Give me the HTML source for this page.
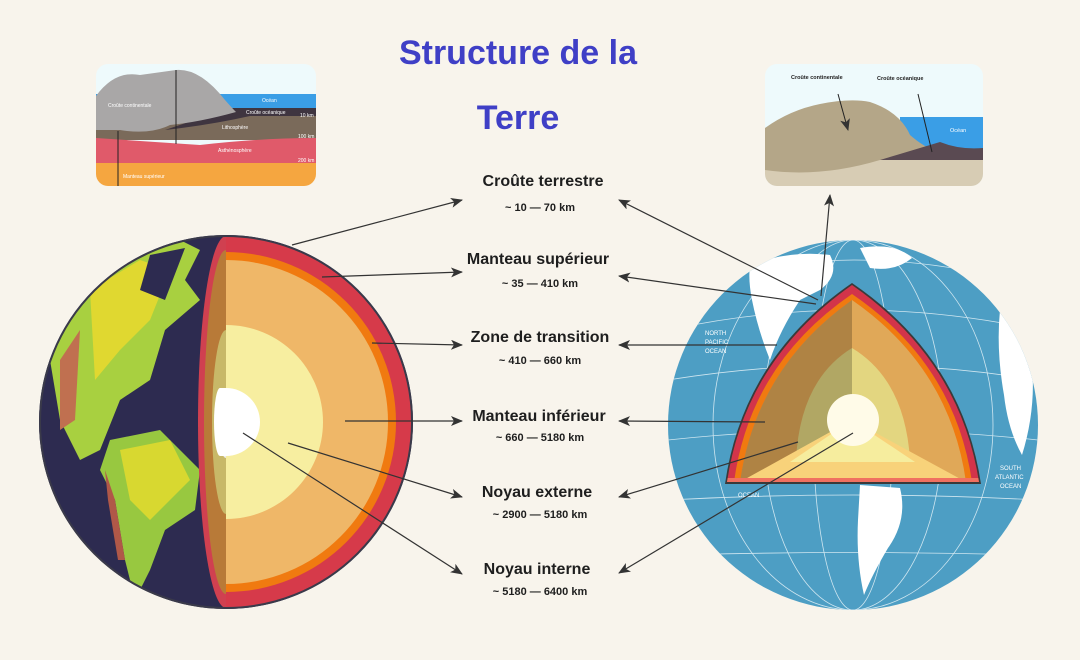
<!DOCTYPE html>
<html><head><meta charset="utf-8"><style>
html,body{margin:0;padding:0;background:#f8f4ec;}
svg{display:block;}
text{font-family:"Liberation Sans","DejaVu Sans",sans-serif;}
</style></head><body>
<svg width="1080" height="660" viewBox="0 0 1080 660" xmlns="http://www.w3.org/2000/svg">
<defs>
<marker id="ah" markerWidth="12" markerHeight="10" refX="11" refY="5" orient="auto" markerUnits="userSpaceOnUse">
<path d="M0,0 L12,5 L0,10 L3,5 Z" fill="#333"/></marker>
<clipPath id="cl1"><rect x="96" y="64" width="220" height="122" rx="12"/></clipPath>
<clipPath id="cl2"><rect x="765" y="64" width="218" height="122" rx="12"/></clipPath>
<clipPath id="gl"><circle cx="226" cy="422" r="186"/></clipPath>
<clipPath id="gr"><circle cx="853" cy="425" r="185"/></clipPath>
<clipPath id="wedge"><path d="M852,285 Q960,360 979,482 L727,482 Q745,360 852,285 Z"/></clipPath>
</defs>
<rect width="1080" height="660" fill="#f8f4ec"/>

<text x="518" y="64" text-anchor="middle" font-size="34" font-weight="bold" fill="#3f3fc6">Structure de la</text>
<text x="518" y="129" text-anchor="middle" font-size="34" font-weight="bold" fill="#3f3fc6">Terre</text>

<g clip-path="url(#cl1)">
<rect x="96" y="64" width="220" height="122" fill="#eefafc"/>
<rect x="96" y="94" width="220" height="14" fill="#3a9ee6"/>
<path d="M96,140 L316,140 L316,108 L240,108 Q180,118 96,125 Z" fill="#7a6a5a"/>
<path d="M230,108 L316,108 L316,116 L250,116 Q210,125 165,130 Z" fill="#3f3540"/>
<path d="M96,96 Q115,70 140,75 L176,70 Q200,68 225,100 Q232,108 236,112 Q200,122 170,125 Q150,135 120,130 L96,130 Z" fill="#a9a7a7"/>
<path d="M96,138 L200,145 Q260,138 316,138 L316,163 L96,163 Z" fill="#e05a6a"/>
<rect x="96" y="163" width="220" height="23" fill="#f5a640"/>
<line x1="176" y1="70" x2="176" y2="144" stroke="#222" stroke-width="1"/>
<line x1="118" y1="131" x2="118" y2="186" stroke="#222" stroke-width="1"/>
</g>
<g font-size="5" fill="#fff">
<text x="108" y="107">Croûte continentale</text>
<text x="262" y="102">Océan</text>
<text x="246" y="114">Croûte océanique</text>
<text x="222" y="129">Lithosphère</text>
<text x="218" y="152">Asthénosphère</text>
<text x="123" y="178">Manteau supérieur</text>
<text x="300" y="117">10 km</text>
<text x="298" y="138">100 km</text>
<text x="298" y="162">200 km</text>
</g>

<g clip-path="url(#cl2)">
<rect x="765" y="64" width="218" height="122" fill="#eefafc"/>
<rect x="900" y="117" width="83" height="35" fill="#3a9ee6"/>
<rect x="765" y="158" width="218" height="28" fill="#d7ccb4"/>
<path d="M765,128 Q790,110 820,104 Q850,98 870,102 Q900,112 910,135 Q925,148 935,150 L983,152 L983,160 L880,160 Q820,178 765,170 Z" fill="#b4a688"/>
<path d="M880,160 Q920,148 940,142 Q960,150 983,148 L983,160 Z" fill="#5a4a52"/>
<line x1="838" y1="94" x2="848" y2="130" stroke="#222" stroke-width="1" marker-end="url(#ah)"/>
<line x1="918" y1="94" x2="932" y2="152" stroke="#222" stroke-width="1"/>
</g>
<g font-size="5.5" fill="#222" font-weight="bold">
<text x="791" y="79">Croûte continentale</text>
<text x="877" y="80">Croûte océanique</text>
</g>
<text x="950" y="132" font-size="5.5" fill="#fff">Océan</text>

<circle cx="226" cy="422" r="187" fill="#2d2b50"/>
<g clip-path="url(#gl)">
<path d="M80,270 Q120,240 180,240 L200,250 L185,280 L200,300 L165,330 L150,380 L120,400 L100,450 L80,460 L60,420 L50,360 Z" fill="#a8d040"/>
<path d="M90,290 L140,260 L170,270 L150,320 L120,350 L95,380 Z" fill="#e0d830"/>
<path d="M60,360 L80,330 L75,420 L60,430 Z" fill="#c07050"/>
<path d="M150,255 L185,248 L165,300 L140,290 Z" fill="#2d2b50"/>
<path d="M110,440 L160,430 L200,470 L195,510 L165,530 L150,570 L135,600 L125,560 L115,500 L100,470 Z" fill="#98c840"/>
<path d="M120,450 L170,440 L190,480 L150,520 L130,500 Z" fill="#d8d830"/>
<path d="M105,470 L115,500 L125,560 L118,560 L108,500 Z" fill="#b05848"/>
</g>
<path d="M226,236 A28,186 0 0 0 226,608 Z" fill="#d04050"/>
<path d="M226,250 A22,172 0 0 0 226,594 Z" fill="#b87a38"/>
<path d="M226,330 A14,92 0 0 0 226,514 Z" fill="#c8b868"/>
<path d="M226,390 A8,34 0 0 0 226,458 Z" fill="#eee"/>
<path d="M226,236 A186,186 0 0 1 226,608 Z" fill="#d63a4a"/>
<path d="M226,252 A170,170 0 0 1 226,592 Z" fill="#f07a10"/>
<path d="M226,260 A162,162 0 0 1 226,584 Z" fill="#efb768"/>
<path d="M226,325 A97,97 0 0 1 226,519 Z" fill="#f7eea0"/>
<path d="M226,388 A34,34 0 0 1 226,456 Z" fill="#ffffff"/>
<path d="M220,388 A6,34 0 0 0 220,456 L226,456 L226,388 Z" fill="#fff"/>
<circle cx="226" cy="422" r="186" fill="none" stroke="#3a3a4a" stroke-width="2"/>

<circle cx="853" cy="425" r="185" fill="#4d9ec4"/>
<g clip-path="url(#gr)" stroke="#cfe6f0" stroke-width="0.8" fill="none">
<ellipse cx="853" cy="425" rx="40" ry="185"/><ellipse cx="853" cy="425" rx="90" ry="185"/><ellipse cx="853" cy="425" rx="140" ry="185"/>
<path d="M668,330 Q853,290 1038,330 M668,380 Q853,350 1038,380 M668,440 Q853,420 1038,440 M668,500 Q853,490 1038,500 M680,555 Q853,550 1030,555 M700,280 Q853,240 1010,280"/>
</g>
<g clip-path="url(#gr)" fill="#fff">
<path d="M750,265 Q790,250 830,255 Q840,275 820,290 L800,300 Q780,330 770,360 Q758,330 752,300 Q748,280 750,265 Z"/>
<path d="M860,248 Q895,242 912,258 Q895,272 870,268 Z"/>
<path d="M1000,310 Q1022,330 1032,365 Q1036,410 1022,455 Q1008,430 1004,395 Q996,350 1000,310 Z"/>
<path d="M860,485 L900,488 Q908,520 888,548 Q872,575 864,595 Q856,560 858,520 Z"/>
</g>
<g font-size="6" fill="#fff">
<text x="705" y="335">NORTH</text><text x="705" y="344">PACIFIC</text><text x="705" y="353">OCEAN</text>
<text x="1000" y="470">SOUTH</text><text x="995" y="479">ATLANTIC</text><text x="1000" y="488">OCEAN</text>
<text x="738" y="497">OCEAN</text>
</g>
<path d="M852,283 Q962,358 981,484 L725,484 Q743,358 852,283 Z" fill="#3a3a3a"/>
<g clip-path="url(#wedge)">
<rect x="720" y="280" width="270" height="210" fill="#d2344a"/>
<path d="M852,294 Q955,364 972,482 L734,482 Q750,364 852,294 Z" fill="#f07a10"/>
<path d="M852,300 Q950,368 966,482 L740,482 Q756,368 852,300 Z" fill="#e0a858"/>
<path d="M852,348 Q905,380 910,460 L796,460 Q800,380 852,348 Z" fill="#e3d680"/>
<path d="M852,300 L852,420 L740,482 Q756,368 852,300 Z" fill="#000" opacity="0.22"/>
<path d="M852,420 L740,482 L966,482 Z" fill="#f8d27a"/>
<path d="M852,420 L790,462 L915,462 Z" fill="#f6ed9e"/>
<rect x="720" y="478" width="270" height="6" fill="#f07060"/>
</g>
<circle cx="853" cy="420" r="26" fill="#fffbe8"/>

<g stroke="#333" stroke-width="1.2" fill="none" marker-end="url(#ah)">
<line x1="292" y1="245" x2="462" y2="200"/>
<line x1="322" y1="277" x2="462" y2="272"/>
<line x1="372" y1="343" x2="462" y2="345"/>
<line x1="345" y1="421" x2="462" y2="421"/>
<line x1="288" y1="443" x2="462" y2="497"/>
<line x1="243" y1="433" x2="462" y2="574"/>
<line x1="818" y1="300" x2="619" y2="200"/>
<line x1="816" y1="304" x2="619" y2="276"/>
<line x1="777" y1="345" x2="619" y2="345"/>
<line x1="765" y1="422" x2="619" y2="421"/>
<line x1="798" y1="442" x2="619" y2="497"/>
<line x1="853" y1="433" x2="619" y2="573"/>
<line x1="821" y1="296" x2="830" y2="195"/>
</g>

<g text-anchor="middle" fill="#1e1e1e">
<g font-size="16" font-weight="bold">
<text x="543" y="186">Croûte terrestre</text>
<text x="538" y="264">Manteau supérieur</text>
<text x="540" y="342">Zone de transition</text>
<text x="539" y="421">Manteau inférieur</text>
<text x="537" y="497">Noyau externe</text>
<text x="537" y="574">Noyau interne</text>
</g>
<g font-size="11" font-weight="bold">
<text x="540" y="211">~ 10 — 70 km</text>
<text x="540" y="287">~ 35 — 410 km</text>
<text x="540" y="364">~ 410 — 660 km</text>
<text x="540" y="441">~ 660 — 5180 km</text>
<text x="540" y="518">~ 2900 — 5180 km</text>
<text x="540" y="595">~ 5180 — 6400 km</text>
</g>
</g>
</svg>
</body></html>
